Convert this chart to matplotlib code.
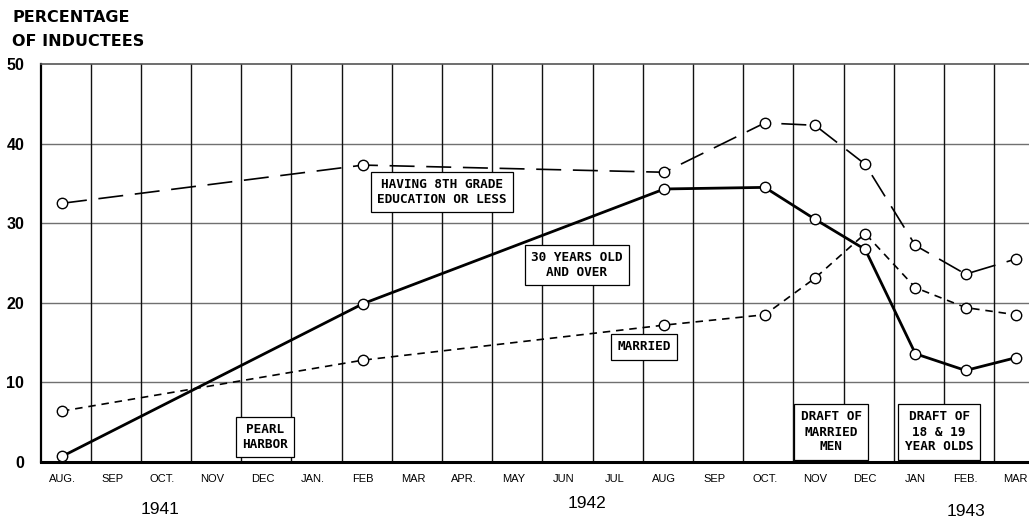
import matplotlib
matplotlib.use("Agg")
import matplotlib.pyplot as plt
import numpy as np

months = ["AUG.", "SEP", "OCT.", "NOV", "DEC", "JAN.", "FEB", "MAR", "APR.", "MAY",
          "JUN", "JUL", "AUG", "SEP", "OCT.", "NOV", "DEC", "JAN", "FEB.", "MAR"]
years = ["1941", "1942", "1943"]

# month indices with observations (0 = Aug 1941)
obs_idx = [0, 6, 12, 14, 15, 16, 17, 18, 19]
age30_over = [0.7, 19.9, 34.3, 34.5, 30.5, 26.7, 13.6, 11.5, 13.1]
grade8_or_less = [32.5, 37.3, 36.4, 42.6, 42.3, 37.4, 27.2, 23.6, 25.5]
married = [6.4, 12.8, 17.2, 18.5, 23.1, 28.7, 21.9, 19.4, 18.5]

W, H = 1029, 523
fig = plt.figure(figsize=(W / 100, H / 100), dpi=100)
ax = fig.add_axes([41 / W, 1 - 462 / H, (W - 41) / W, (462 - 64) / H])

x0, ppu = 62.0, 50.2
def xd(px):
    return (px - x0) / ppu
def yd(py):
    return (462 - py) / 7.96

ax.set_xlim(xd(41), xd(W))
ax.set_ylim(0, 50)

# grid
for v in [10, 20, 30, 40]:
    ax.axhline(v, color="#707070", lw=1.0, zorder=1)
for i in range(len(months) - 1):
    ax.axvline(i + 0.57, color="#111111", lw=1.0, zorder=1)

ax.plot(obs_idx, age30_over, color="black", lw=2.0, zorder=4,
        marker="o", ms=7.5, mfc="white", mec="black", mew=1.0)
ax.plot(obs_idx, grade8_or_less, color="black", lw=1.2, zorder=4,
        linestyle=(0, (15, 7)),
        marker="o", ms=7.5, mfc="white", mec="black", mew=1.0)
ax.plot(obs_idx, married, color="black", lw=1.2, zorder=4,
        linestyle=(0, (4.5, 3.5)),
        marker="o", ms=7.5, mfc="white", mec="black", mew=1.0)

# spines
ax.spines["right"].set_visible(False)
ax.spines["top"].set_color("#555555")
ax.spines["top"].set_linewidth(1.2)
ax.spines["left"].set_linewidth(1.6)
ax.spines["bottom"].set_linewidth(2.2)

ax.set_yticks([0, 10, 20, 30, 40, 50])
ax.set_yticklabels(["0", "10", "20", "30", "40", "50"], fontsize=11.5,
                   fontweight="bold", family="Liberation Sans")
ax.tick_params(axis="y", length=0, pad=12)
ax.set_xticks(range(len(months)))
ax.set_xticklabels(months, fontsize=8, family="Liberation Sans")
ax.tick_params(axis="x", length=0, pad=9)

# year labels
for txt, px, py in zip(years, [160, 587, 966], [509, 503, 511]):
    fig.text(px / W, 1 - py / H, txt, ha="center", va="center", fontsize=12.5,
             family="Liberation Sans")

fig.text(12 / W, 1 - 18 / H, "PERCENTAGE", ha="left", va="center",
         fontsize=11.5, fontweight="bold", family="DejaVu Sans")
fig.text(12 / W, 1 - 42 / H, "OF INDUCTEES", ha="left", va="center",
         fontsize=11.5, fontweight="bold", family="DejaVu Sans")

box = dict(boxstyle="square,pad=0.5", fc="white", ec="black", lw=0.9)
notes = [
    ("HAVING 8TH GRADE\nEDUCATION OR LESS", 442, 192),
    ("30 YEARS OLD\nAND OVER", 577, 265),
    ("MARRIED", 644, 347),
    ("PEARL\nHARBOR", 265, 437),
    ("DRAFT OF\nMARRIED\nMEN", 831, 432),
    ("DRAFT OF\n18 & 19\nYEAR OLDS", 939, 432),
]
for txt, px, py in notes:
    ax.text(xd(px), yd(py), txt, ha="center", va="center", fontsize=9.2,
            fontweight="bold", family="DejaVu Sans Mono", linespacing=1.2,
            bbox=box, zorder=5)

fig.savefig("out.png", dpi=100)
